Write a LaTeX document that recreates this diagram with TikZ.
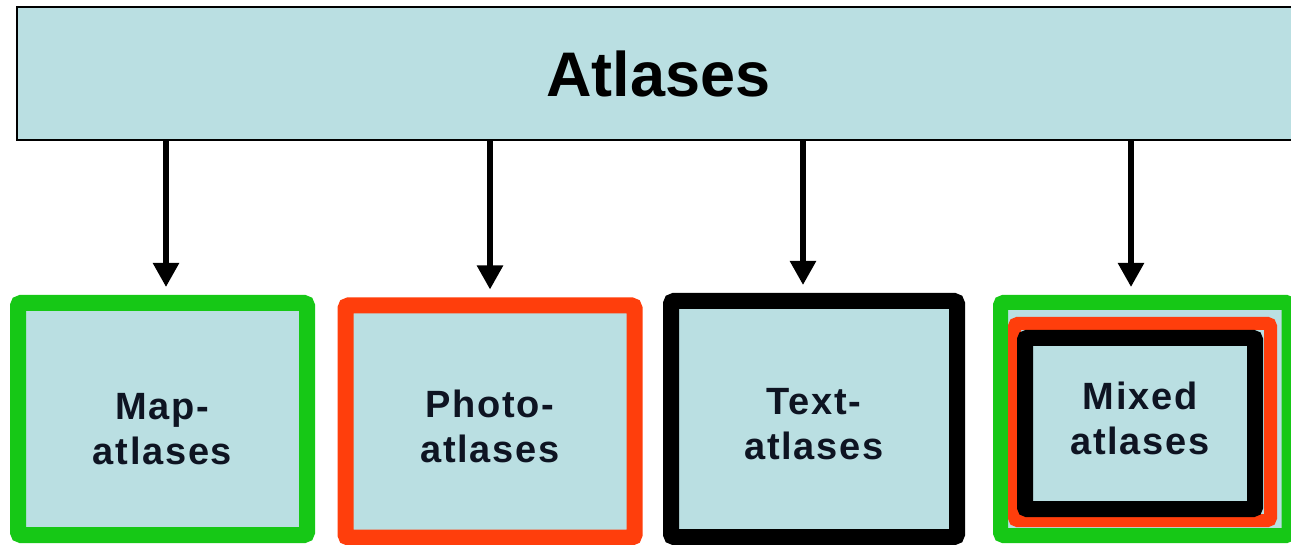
\documentclass[tikz,border=0pt]{standalone}
\usepackage{fontspec}
\setmainfont{Liberation Sans}
\newfontfamily\lsans[LetterSpace=4.5]{Liberation Sans}
\usetikzlibrary{arrows.meta}
\definecolor{boxfill}{RGB}{186,223,226}
\definecolor{bgreen}{RGB}{22,200,22}
\definecolor{bred}{RGB}{255,62,12}
\definecolor{txt}{RGB}{14,20,34}
\begin{document}
\begin{tikzpicture}[x=1pt,y=-1pt,
  subbox/.style={rectangle, fill=boxfill, line width=16pt, rounded corners=3pt, inner sep=0pt},
  lbl/.style={font=\lsans\bfseries\fontsize{38}{45}\selectfont, align=center, inner sep=0pt, text=txt},
  arr/.style={line width=5.5pt, -{Triangle[width=25pt,length=24pt]}, shorten >=8pt}]
\useasboundingbox (0,0) rectangle (1291,545);
\fill[white] (0,0) rectangle (1291,545);
% top box
\node[draw=black, line width=2.5pt, fill=boxfill, minimum width=1283pt, minimum height=133pt,
      inner sep=0pt, font=\bfseries\fontsize{63}{70}\selectfont, text=black] (top) at (658.5,73.5) {Atlases};
% sub boxes
\node[subbox, draw=bgreen, minimum width=289pt, minimum height=232pt] (map) at (162.5,419) {};
\node[subbox, draw=bred, minimum width=289pt, minimum height=232pt] (photo) at (490,421.5) {};
\node[subbox, draw=black, minimum width=286pt, minimum height=236pt] (text) at (814,419) {};
\node[subbox, draw=bgreen, line width=15pt, minimum width=288.5pt, minimum height=233pt] (mixed) at (1144.75,419) {};
\node[subbox, draw=bred, line width=13pt, minimum width=256pt, minimum height=197pt] (mixedr) at (1142.5,422) {};
\node[subbox, draw=black, minimum width=230pt, minimum height=171pt, rounded corners=2pt] (mixedb) at (1140,423.5) {};
% labels
\node[lbl] (maplbl) at ([yshift=-10pt]map.center) {Map-\\atlases};
\node[lbl] (photolbl) at ([yshift=-5pt]photo.center) {Photo-\\atlases};
\node[lbl] (textlbl) at ([yshift=-5pt]text.center) {Text-\\atlases};
\node[lbl] (mixedlbl) at ([yshift=5pt]mixedb.center) {Mixed\\atlases};
% arrows
\coordinate (a1) at (166,0);
\coordinate (a2) at (490,0);
\coordinate (a3) at (803,0);
\coordinate (a4) at (1131,0);
\draw[arr] (top.south -| a1) -- (map.north -| a1);
\draw[arr] (top.south -| a2) -- (photo.north -| a2);
\draw[arr] (top.south -| a3) -- (text.north -| a3);
\draw[arr] (top.south -| a4) -- (mixed.north -| a4);
\end{tikzpicture}
\end{document}
